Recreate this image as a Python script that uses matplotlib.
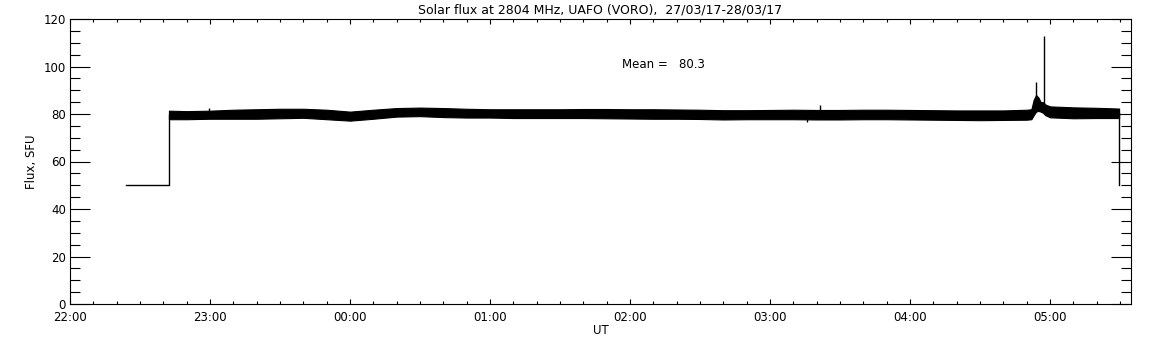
import pandas as pd
import matplotlib
matplotlib.use('Agg')
import matplotlib.pyplot as plt
import matplotlib.dates as mdates
from matplotlib.ticker import MultipleLocator

# --- data (UT, 27/03/17 -> 28/03/17) ---
day1 = '2017-03-27 '
day2 = '2017-03-28 '

# flat 50 SFU segment before the receiver came up, and the drop at the end
start_times = [day1 + '22:24:00', day1 + '22:42:24', day1 + '22:42:24']
start_flux = [50, 50, 79.6]
end_times = [day2 + '05:29:36', day2 + '05:29:36']
end_flux = [80.3, 50]

# envelope of the noisy flux band (top / bottom), SFU
band_times = [day1 + '22:42:24', day1 + '22:50', day1 + '23:00', day1 + '23:10',
              day1 + '23:20', day1 + '23:30', day1 + '23:40', day1 + '23:50',
              day2 + '00:00', day2 + '00:10', day2 + '00:20', day2 + '00:30',
              day2 + '00:40', day2 + '00:50', day2 + '01:00', day2 + '01:10',
              day2 + '01:20', day2 + '01:30', day2 + '01:40', day2 + '01:50',
              day2 + '02:00', day2 + '02:10', day2 + '02:20', day2 + '02:30',
              day2 + '02:40', day2 + '02:50', day2 + '03:00', day2 + '03:10',
              day2 + '03:20', day2 + '03:30', day2 + '03:40', day2 + '03:50',
              day2 + '04:00', day2 + '04:10', day2 + '04:20', day2 + '04:30',
              day2 + '04:40', day2 + '04:50', day2 + '04:52', day2 + '04:53',
              day2 + '04:54', day2 + '04:55', day2 + '04:56', day2 + '04:57',
              day2 + '04:58', day2 + '05:00', day2 + '05:10', day2 + '05:20',
              day2 + '05:29:36']
band_top = [81.4, 81.2, 81.4, 81.8, 82.0, 82.2, 82.2, 81.8,
            81.0, 81.8, 82.5, 82.7, 82.5, 82.2, 82.0, 82.0,
            82.0, 82.0, 82.1, 82.1, 82.0, 82.0, 81.9, 81.8,
            81.6, 81.6, 81.7, 81.8, 81.7, 81.7, 81.8, 81.8,
            81.7, 81.6, 81.5, 81.5, 81.5, 81.8, 82.0, 86.0,
            88.0, 87.0, 85.0, 85.0, 84.0, 83.2, 82.8, 82.6, 82.3]
band_bottom = [77.8, 77.8, 78.0, 78.0, 78.0, 78.2, 78.4, 77.8,
               77.2, 78.0, 78.9, 79.1, 78.7, 78.5, 78.5, 78.3,
               78.3, 78.3, 78.3, 78.2, 78.1, 78.0, 78.0, 77.9,
               77.7, 77.8, 77.8, 77.8, 77.7, 77.7, 77.8, 77.8,
               77.7, 77.6, 77.5, 77.4, 77.5, 77.6, 77.8, 79.5,
               81.0, 81.3, 81.0, 80.5, 79.5, 78.6, 78.2, 78.3, 78.3]

# isolated spikes sticking out of the band
spike_times = [day1 + '22:59:40', day2 + '03:15:50', day2 + '03:21:25',
               day2 + '04:54:05', day2 + '04:57:20']
spike_base = [80, 79, 80, 84, 83]
spike_flux = [82.5, 76.5, 83.9, 93.3, 113.0]

mean_flux = 80.3
title = 'Solar flux at 2804 MHz, UAFO (VORO),  27/03/17-28/03/17'

start_times = pd.to_datetime(start_times, format='mixed')
end_times = pd.to_datetime(end_times, format='mixed')
band_times = pd.to_datetime(band_times, format='mixed')
spike_times = pd.to_datetime(spike_times, format='mixed')

fig = plt.figure(figsize=(11.52, 3.45), dpi=100)
ax = fig.add_axes([70 / 1152, 1 - 304 / 345, (1131 - 70) / 1152, (304 - 19) / 345])

ax.fill_between(band_times, band_bottom, band_top, color='black', linewidth=0.8)
ax.plot(start_times, start_flux, color='black', linewidth=1.0)
ax.plot(end_times, end_flux, color='black', linewidth=1.0)
ax.vlines(spike_times, spike_base, spike_flux, color='black', linewidth=1.0)

ax.set_xlim(pd.Timestamp(day1 + '22:00'), pd.Timestamp(day2 + '05:34:42'))
ax.set_ylim(0, 120)

ax.xaxis.set_major_locator(mdates.HourLocator())
ax.xaxis.set_minor_locator(mdates.MinuteLocator(byminute=range(0, 60, 10)))
ax.xaxis.set_major_formatter(mdates.DateFormatter('%H:%M'))
ax.yaxis.set_major_locator(MultipleLocator(20))
ax.yaxis.set_minor_locator(MultipleLocator(5))

ax.tick_params(axis='both', which='both', direction='in', top=True, right=True,
               width=0.8, labelsize=8.5, colors='black')
ax.tick_params(axis='y', which='major', length=14.4, pad=3)
ax.tick_params(axis='y', which='minor', length=7.2)
ax.tick_params(axis='x', which='major', length=3.6, pad=5)
ax.tick_params(axis='x', which='minor', length=2.0)
for sp in ax.spines.values():
    sp.set_linewidth(0.8)

ax.set_title(title, fontsize=9, pad=4)
ax.set_ylabel('Flux, SFU', fontsize=8.5, labelpad=4)
ax.set_xlabel('UT', fontsize=8.5, labelpad=0)

ax.text(pd.Timestamp(day2 + '01:56:36'), 101, 'Mean =   %.1f' % mean_flux,
        fontsize=8.5, ha='left', va='center')

fig.savefig('out.png', dpi=100)
